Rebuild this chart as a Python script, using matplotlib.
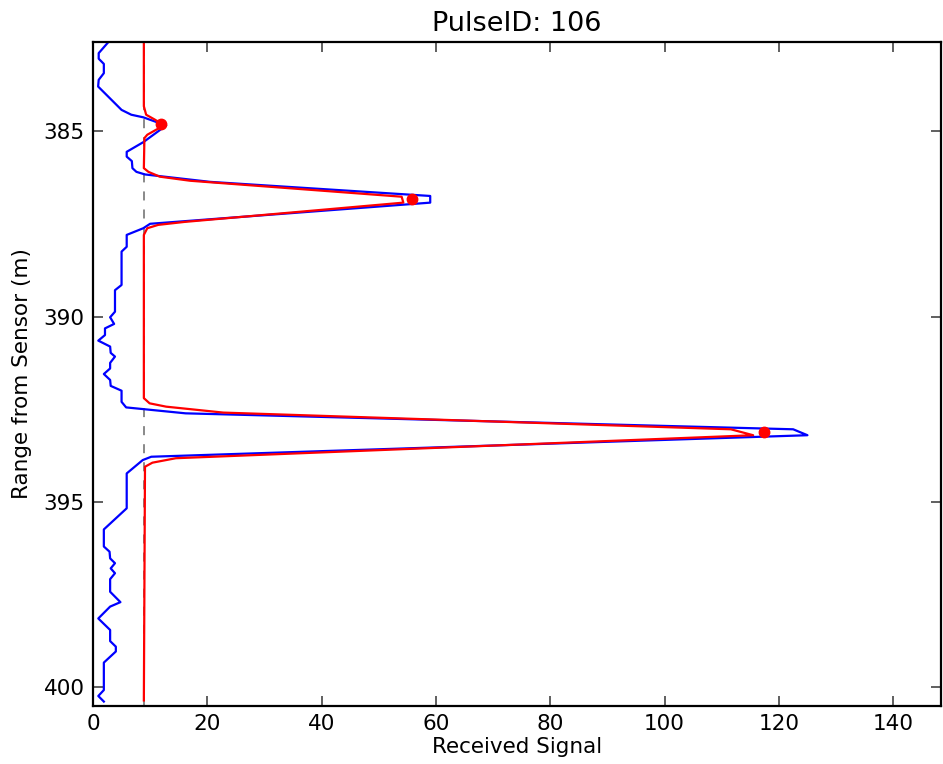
import matplotlib
matplotlib.use("Agg")
import matplotlib.pyplot as plt

title = "PulseID: 106"

# Raw received waveform (blue): range (m) and signal
raw_range = [382.60, 382.90, 383.05, 383.19, 383.44, 383.62, 383.80, 384.43, 384.56, 384.63,
             384.85, 385.30, 385.56, 385.69, 385.81, 386.00, 386.10, 386.17, 386.37, 386.75,
             386.93, 387.50, 387.62, 387.80, 388.12, 388.25, 389.15, 389.29, 389.87, 390.02,
             390.20, 390.32, 390.50, 390.65, 390.81, 390.98, 391.08, 391.25, 391.40, 391.55,
             391.71, 391.87, 392.00, 392.30, 392.45, 392.61, 393.04, 393.20, 393.78, 393.87,
             394.23, 395.17, 395.74, 396.20, 396.34, 396.52, 396.65, 396.79, 396.92, 397.08,
             397.42, 397.70, 397.82, 398.14, 398.45, 398.75, 398.90, 399.03, 399.33, 400.07,
             400.23, 400.38]
raw_signal = [2.7, 1.0, 1.0, 1.9, 1.9, 1.0, 0.9, 5.0, 6.7, 8.8,
              12.8, 8.8, 5.9, 5.9, 6.8, 6.9, 7.6, 9.1, 20.5, 59.0,
              59.0, 10.0, 8.8, 5.9, 5.9, 5.0, 5.0, 3.85, 3.85, 3.0,
              3.7, 2.1, 2.1, 0.93, 3.0, 3.1, 3.85, 3.0, 3.0, 1.9,
              3.0, 3.1, 5.0, 5.0, 5.8, 16.2, 122.5, 125.0, 10.2, 8.7,
              5.9, 5.9, 1.9, 1.9, 2.9, 3.0, 3.85, 3.1, 3.85, 3.0,
              3.0, 4.8, 3.0, 0.93, 3.0, 3.0, 4.0, 4.0, 1.9, 1.9,
              0.93, 1.9]

# Fitted waveform (red)
fit_range = [382.60, 384.33, 384.56, 384.69, 384.85, 384.96, 385.10, 385.19, 386.00, 386.10,
             386.23, 386.34, 386.77, 386.93, 387.45, 387.53, 387.62, 387.80, 392.20, 392.34,
             392.43, 392.59, 393.04, 393.20, 393.82, 393.94, 394.05, 400.35]
fit_signal = [8.9, 8.9, 9.3, 10.8, 12.5, 11.1, 9.5, 9.0, 8.9, 9.7,
              11.7, 17.0, 54.0, 54.3, 16.0, 11.4, 9.5, 8.9, 8.9, 9.9,
              12.8, 22.8, 111.6, 115.5, 14.5, 10.4, 9.1, 8.9]

# Detected peaks (red dots)
peak_range = [384.81, 386.84, 393.12]
peak_signal = [11.9, 55.9, 117.4]

noise_level = 8.9

fig = plt.figure(figsize=(9.43, 7.64), dpi=100)
ax = fig.add_axes([0.0986, 0.0759, 0.8995, 0.8691])

ax.axvline(noise_level, color="gray", linestyle="--", linewidth=1.3, dashes=(5, 5))
ax.plot(raw_signal, raw_range, color="#0000ff", linewidth=1.6)
ax.plot(fit_signal, fit_range, color="#ff0000", linewidth=1.6)
ax.plot(peak_signal, peak_range, "o", color="#ff0000", markersize=7.5, markeredgecolor="#ff0000")

ax.set_xlim(0, 148.4)
ax.set_ylim(400.5, 382.6)
ax.set_xticks([0, 20, 40, 60, 80, 100, 120, 140])
ax.set_yticks([385, 390, 395, 400])

ax.tick_params(direction="in", length=7, width=1.2, labelsize=15.5, top=True, right=True,
               color="#444444", pad=6)
for s in ax.spines.values():
    s.set_linewidth(1.6)

ax.set_xlabel("Received Signal", fontsize=15.5, labelpad=2)
ax.set_ylabel("Range from Sensor (m)", fontsize=15.5, labelpad=8)
ax.set_title(title, fontsize=19.5, pad=8)

fig.savefig("out.png", dpi=100)
